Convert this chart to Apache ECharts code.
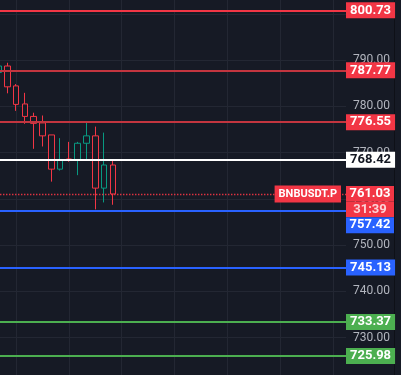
<!DOCTYPE html>
<html>
<head>
<meta charset="utf-8">
<style>
  html, body { margin: 0; padding: 0; background: #161a25; }
  #chart { width: 401px; height: 375px; }
</style>
<script src="https://cdn.jsdelivr.net/npm/echarts@6/dist/echarts.min.js"></script>
</head>
<body>
<div id="chart"></div>
<script>
// 蜡烛数据 (从左到右)
const candleOpen  = [787.3, 788.7, 784.4, 780.5, 777.8, 776.4, 773.8, 766.4, 768.6, 768.5, 772.0, 773.6, 762.3, 767.3];
const candleClose = [788.7, 784.2, 780.4, 777.8, 776.3, 773.6, 766.4, 768.5, 768.4, 772.0, 773.6, 762.3, 767.3, 761.03];
const candleLow   = [787.0, 782.8, 779.0, 776.2, 770.8, 771.3, 763.7, 766.1, 768.0, 765.1, 768.5, 757.7, 759.2, 758.7];
const candleHigh  = [789.1, 789.4, 784.8, 782.9, 778.6, 778.0, 773.8, 773.1, 772.3, 772.3, 776.4, 775.6, 774.3, 768.2];

// 横线价位
const levelPrices = [800.73, 787.77, 776.55, 768.42, 745.13, 733.37, 725.98];
const nearPrice = 757.42;

// 当前价格
const symbolName = 'BNBUSDT.P';
const lastPrice = 761.03;
const countdown = '31:39';

// Y轴刻度
const yMin = 720;
const yMax = 810;
const yStep = 10;

// 样式
const bg = '#161a25';
const gridColor = '#232733';
const red = '#f23645';
const green = '#089981';
const blue = '#2962ff';
const lime = '#4caf50';
const levelLineColors = [red, '#c2353f', '#c2353f', '#ffffff', blue, lime, lime];
const levelBoxColors = [red, red, red, '#ffffff', blue, lime, lime];
const levelTextColors = ['#fff', '#fff', '#fff', '#131722', '#fff', '#fff', '#fff'];

const slotCount = 40;
const FONT = 'Roboto';
const BOX_WEIGHT = 'bold';

let chart = echarts.init(document.getElementById('chart'));

//普通价格标签
function boxLabel(text, bgc, fg) {
    return {
        show: true,
        position: 'end',
        distance: 0,
        formatter: text,
        fontFamily: FONT,
        fontSize: 13,
        fontWeight: BOX_WEIGHT,
        color: fg,
        backgroundColor: bgc,
        padding: [1, 4],
        lineHeight: 14
    };
}

let markData = levelPrices.map((p, i) => ({
    yAxis: p,
    lineStyle: {color: levelLineColors[i], width: 2, type: 'solid'},
    label: boxLabel(p.toFixed(2), levelBoxColors[i], levelTextColors[i])
}));

// 757.42 标签被当前价格标签挤下去
markData.push({
    yAxis: nearPrice,
    lineStyle: {color: blue, width: 2, type: 'solid'},
    label: {
        show: true,
        position: 'end',
        distance: 0,
        formatter: '{gap| }\n{b|' + nearPrice.toFixed(2) + '}',
        rich: {
            gap: {height: 29, lineHeight: 29, fontSize: 1},
            b: {backgroundColor: blue, color: '#fff', width: 48, height: 16, lineHeight: 16,
                align: 'center', fontSize: 13, fontWeight: BOX_WEIGHT, fontFamily: FONT}
        }
    }
});

// 当前价格虚线 + 名称
markData.push({
    yAxis: lastPrice,
    lineStyle: {color: red, width: 1.3, type: [1.3, 1.7]},
    label: {
        show: true,
        position: 'insideEnd',
        distance: 5,
        formatter: symbolName,
        fontFamily: FONT,
        fontSize: 11,
        fontWeight: BOX_WEIGHT,
        color: '#fff',
        backgroundColor: red,
        padding: [2, 4],
        lineHeight: 13
    }
});

// 当前价格 + 倒计时
markData.push({
    yAxis: lastPrice + 0.001,
    lineStyle: {color: 'rgba(0,0,0,0)', width: 0},
    label: {
        show: true,
        position: 'end',
        distance: 0,
        formatter: '{gap| }\n{p|' + lastPrice.toFixed(2) + '}\n{t|' + countdown + '}',
        rich: {
            gap: {height: 15, lineHeight: 15, fontSize: 1},
            p: {backgroundColor: red, color: '#fff', width: 48, height: 15.6, lineHeight: 15.6,
                align: 'center', fontSize: 13, fontWeight: BOX_WEIGHT, fontFamily: FONT},
            t: {backgroundColor: red, color: '#fcd3d7', width: 48, height: 15.6, lineHeight: 15.6,
                align: 'center', fontSize: 13, fontWeight: BOX_WEIGHT, fontFamily: FONT}
        }
    }
});

let option = {
    backgroundColor: bg,
    animation: false,
    grid: {
        left: -5.9,
        right: 55,
        top: -32.5,
        bottom: -8.75,
        containLabel: false,
        outerBoundsMode: 'none'
    },
    xAxis: [
        {
            type: 'category',
            data: Array.from({length: slotCount}, (_, i) => String(i)),
            show: false
        },
        {
            // 只用来画竖直网格线
            type: 'category',
            boundaryGap: false,
            data: Array.from({length: slotCount * 2 + 1}, (_, i) => String(i)),
            axisLine: {show: false},
            axisTick: {show: false},
            axisLabel: {show: false},
            splitLine: {
                show: true,
                interval: (i) => i % 12 === 5,
                lineStyle: {color: gridColor, width: 1}
            }
        }
    ],
    yAxis: [
        {
            type: 'value',
            position: 'right',
            min: yMin,
            max: yMax,
            interval: yStep,
            axisLine: {show: false},
            axisTick: {show: false},
            axisLabel: {
                color: '#b2b5be',
                fontSize: 12,
                fontFamily: FONT,
                margin: 7,
                formatter: (v) => v.toFixed(2)
            },
            splitLine: {lineStyle: {color: gridColor, width: 1}}
        },
        {
            type: 'value',
            position: 'right',
            offset: 48.5,
            min: yMin,
            max: yMax,
            axisLine: {show: true, lineStyle: {color: '#0e1017', width: 1}},
            axisTick: {show: false},
            axisLabel: {show: false},
            splitLine: {show: false}
        }
    ],
    series: [
        {
            type: 'candlestick',
            barWidth: 6,
            data: candleOpen.map((o, i) => [o, candleClose[i], candleLow[i], candleHigh[i]]),
            itemStyle: {
                color: bg,
                color0: bg,
                borderColor: green,
                borderColor0: red,
                borderWidth: 1
            },
            markLine: {
                symbol: ['none', 'none'],
                silent: true,
                animation: false,
                data: markData
            }
        }
    ]
};

chart.setOption(option);
</script>
</body>
</html>
